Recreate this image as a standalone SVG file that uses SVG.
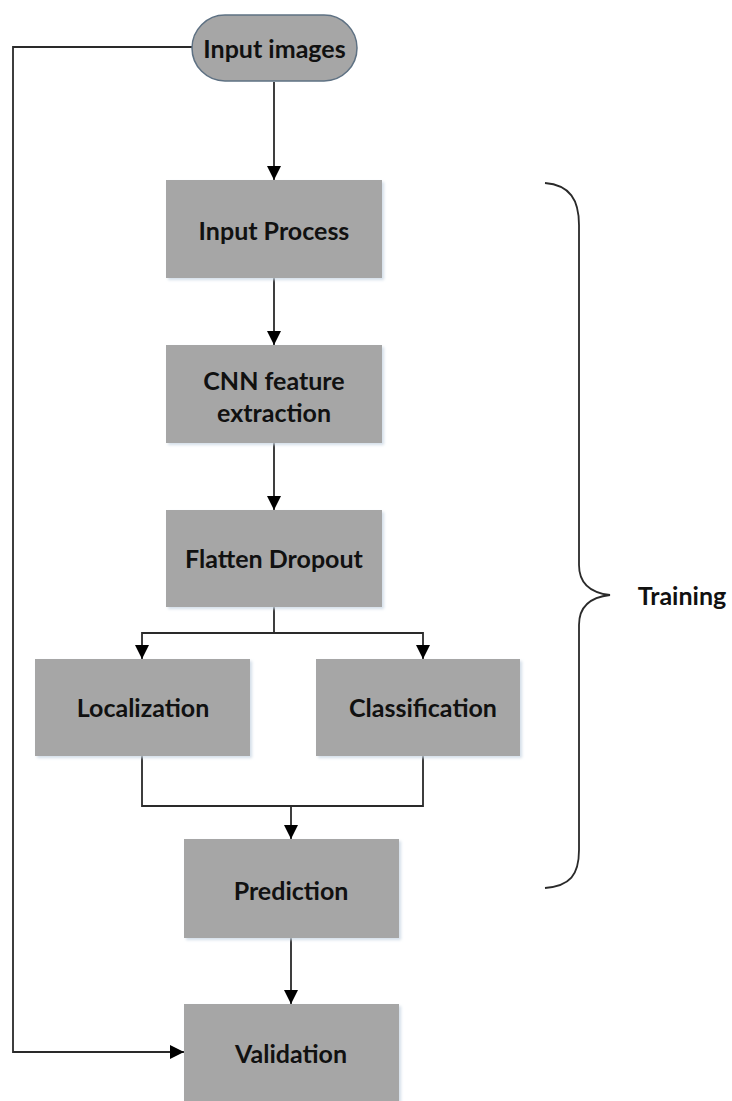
<svg xmlns="http://www.w3.org/2000/svg" width="732" height="1101" viewBox="0 0 732 1101">
<defs>
<marker id="ah" viewBox="0 0 10 10" refX="10" refY="5" markerWidth="14" markerHeight="14" markerUnits="userSpaceOnUse" orient="auto">
<path d="M0,0 L10,5 L0,10 z" fill="#000"/>
</marker>
<filter id="sh" x="-10%" y="-10%" width="125%" height="125%">
<feDropShadow dx="2" dy="2" stdDeviation="1.5" flood-color="#c9d6e3" flood-opacity="0.8"/>
</filter>
</defs>
<style>
.box{fill:#a6a6a6;filter:url(#sh)}
.pill{fill:#a6a6a6;stroke:#5e7183;stroke-width:1.5}
.lbl{font-family:Lato,"Open Sans","Liberation Sans",sans-serif;font-weight:bold;font-size:25px;fill:#111;text-anchor:middle;dominant-baseline:central}
.ln{fill:none;stroke:#2a2a2a;stroke-width:1.8}
</style>
<rect width="732" height="1101" fill="#fff"/>
<g id="connectors">
<path class="ln" d="M192,47 H13 V1052 H184" marker-end="url(#ah)"/>
<path class="ln" d="M274,82 V180" marker-end="url(#ah)"/>
<path class="ln" d="M274,278 V345" marker-end="url(#ah)"/>
<path class="ln" d="M274,443 V510" marker-end="url(#ah)"/>
<path class="ln" d="M274,607 V633"/>
<path class="ln" d="M274,633 H142 V659" marker-end="url(#ah)"/>
<path class="ln" d="M274,633 H423 V659" marker-end="url(#ah)"/>
<path class="ln" d="M142,756 V806 H423 V756"/>
<path class="ln" d="M291,806 V839" marker-end="url(#ah)"/>
<path class="ln" d="M291,938 V1004" marker-end="url(#ah)"/>
</g>
<g id="input-images">
<rect class="pill" x="192" y="15" width="165" height="66" rx="33" ry="33"/>
<text class="lbl" x="274.5" y="48">Input images</text>
</g>
<g id="input-process">
<rect class="box" x="166" y="180" width="216" height="98"/>
<text class="lbl" x="274" y="230">Input Process</text>
</g>
<g id="cnn">
<rect class="box" x="166" y="345" width="216" height="98"/>
<text class="lbl" x="274" y="380">CNN feature</text>
<text class="lbl" x="274" y="412">extraction</text>
</g>
<g id="flatten">
<rect class="box" x="166" y="510" width="216" height="97"/>
<text class="lbl" x="274" y="558">Flatten Dropout</text>
</g>
<g id="localization">
<rect class="box" x="35" y="659" width="215" height="97"/>
<text class="lbl" x="143" y="707">Localization</text>
</g>
<g id="classification">
<rect class="box" x="316" y="659" width="204" height="97"/>
<text class="lbl" x="423" y="707">Classification</text>
</g>
<g id="prediction">
<rect class="box" x="184" y="839" width="215" height="99"/>
<text class="lbl" x="291" y="890">Prediction</text>
</g>
<g id="validation">
<rect class="box" x="184" y="1004" width="215" height="97"/>
<text class="lbl" x="291" y="1053">Validation</text>
</g>
<g id="training-brace">
<path class="ln" d="M545,183 C570,185 579,200 579,225 V565 C579,585 592,593 610,595 C592,597 579,605 579,625 V850 C579,875 570,886 545,888"/>
<text class="lbl" x="682" y="595">Training</text>
</g>
</svg>
